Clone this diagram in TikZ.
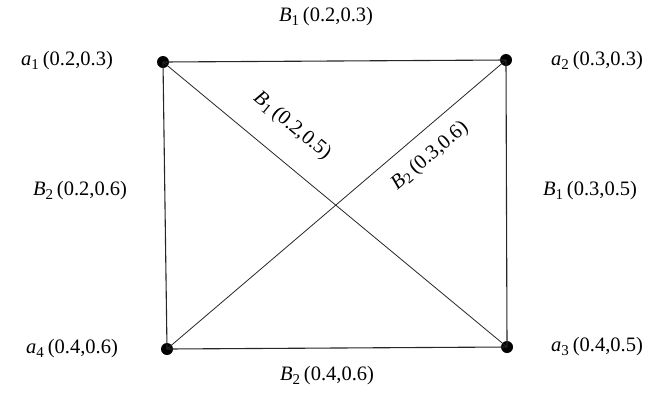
\documentclass[tikz,border=0pt]{standalone}
\usepackage{fontspec}
\setmainfont{Liberation Serif}
\newcommand{\lbl}[3]{{\itshape #1}\textsubscript{\fontsize{15}{15}\selectfont#2}\,(#3)}
\begin{document}
\begin{tikzpicture}[x=1pt,y=-1pt,
  vtx/.style={circle,fill=black,inner sep=0pt,minimum size=12pt},
  edge/.style={draw=black!85,line width=1.1pt},
  lab/.style={font=\fontsize{20.5}{24}\selectfont,inner sep=1pt}]
\useasboundingbox (0,0) rectangle (652,392);
\node[vtx] (a1) at (163,62) {};
\node[vtx] (a2) at (506,60) {};
\node[vtx] (a3) at (507,347) {};
\node[vtx] (a4) at (167,349) {};
\draw[edge] (a1.center) -- (a2.center);
\draw[edge] (a2.center) -- (a3.center);
\draw[edge] (a3.center) -- (a4.center);
\draw[edge] (a4.center) -- (a1.center);
\draw[edge,line width=0.8pt] (a1.center) -- (a3.center);
\draw[edge,line width=0.8pt] (a4.center) -- (a2.center);
\node[lab] (la1) at (67,61) {\lbl{a}{1}{0.2,0.3}};
\node[lab] (la2) at (597,61) {\lbl{a}{2}{0.3,0.3}};
\node[lab] (la3) at (597,347) {\lbl{a}{3}{0.4,0.5}};
\node[lab] (la4) at (72,349) {\lbl{a}{4}{0.4,0.6}};
\node[lab] (e12) at (326,17) {\lbl{B}{1}{0.2,0.3}};
\node[lab] (e23) at (590,191) {\lbl{B}{1}{0.3,0.5}};
\node[lab] (e34) at (327,376) {\lbl{B}{2}{0.4,0.6}};
\node[lab] (e41) at (80,191) {\lbl{B}{2}{0.2,0.6}};
\node[lab,rotate=-39.6] (e13) at (292,126) {\lbl{B}{1}{0.2,0.5}};
\node[lab,rotate=40.4] (e42) at (430,156) {\lbl{B}{2}{0.3,0.6}};
\end{tikzpicture}
\end{document}
